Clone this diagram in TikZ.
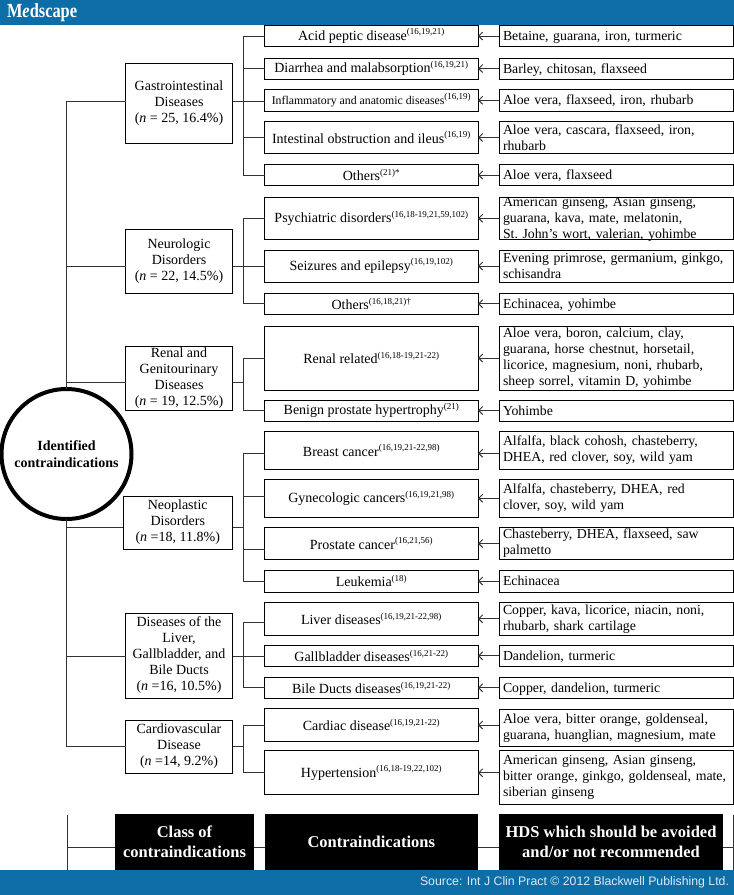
\documentclass[tikz,border=0pt]{standalone}
\usepackage{fontspec}
\usepackage{graphicx}
\setmainfont{Liberation Serif}
\newfontfamily\srcfont{Liberation Sans}
\usetikzlibrary{arrows.meta}
\definecolor{banner}{HTML}{0D6EA7}
\newcommand\rf[2][]{\raisebox{.4em}{\fontsize{9}{9}\selectfont(#2)#1}}
\begin{document}
\begin{tikzpicture}
	[x=1pt,y=-1pt,
	every node/.style={inner sep=0,outer sep=0,font=\frenchspacing\fontsize{14}{16}\selectfont},
	classbox/.style={draw,line width=.9pt,align=center,minimum width=107pt},
	contrabox/.style={draw,line width=.9pt,align=center,minimum width=213.5pt},
	hdsbox/.style={draw,line width=.9pt,align=left,inner xsep=4pt,text width=226pt,font=\frenchspacing\fontsize{13.8}{16}\selectfont},
	hdsone/.style={hdsbox,text height=9pt,text depth=0pt},
	headbox/.style={fill=black,text=white,align=center,font=\bfseries\fontsize{16.5}{20}\selectfont},
	lnk/.style={line width=.9pt,color=black!80},
	ref/.style={lnk,{Straight Barb[length=4pt,width=8pt]}-}]
	\def\cx{179}\def\dx{371.25}\def\hx{616}\def\bx{243.5}
	\useasboundingbox (0,0) rectangle (734,895);
	% root and class boxes
	\node[circle,draw,line width=4pt,minimum size=130pt,align=center,
	font=\bfseries\fontsize{14}{17}\selectfont] (root) at (66.5,454) {Identified\\contraindications};
	\node[classbox,minimum height=80pt] (cgi)  at (\cx,103.5) {Gastrointestinal\\Diseases\\(\textit{n} = 25, 16.4\%)};
	\node[classbox,minimum height=64pt] (cneu) at (\cx,261)   {Neurologic\\Disorders\\(\textit{n} = 22, 14.5\%)};
	\node[classbox,minimum height=63.5pt] (cren) at (\cx,378.5) {Renal and\\Genitourinary\\Diseases\\(\textit{n} = 19, 12.5\%)};
	\node[classbox,minimum width=109.5pt,minimum height=53pt] (cneo) at (177.75,522.5) {Neoplastic\\Disorders\\(\textit{n} =18, 11.8\%)};
	\node[classbox,minimum height=85pt] (cliv) at (\cx,655.5) {Diseases of the\\Liver,\\Gallbladder, and\\Bile Ducts\\(\textit{n} =16, 10.5\%)};
	\node[classbox,minimum height=53pt] (ccar) at (\cx,746.5) {Cardiovascular\\Disease\\(\textit{n} =14, 9.2\%)};
	% contraindication boxes
	\node[contrabox,minimum height=21.5pt] (dacid)  at (\dx,36)     {Acid peptic disease\rf{16,19,21}};
	\node[contrabox,minimum height=21pt]   (ddia)   at (\dx,68.5)   {Diarrhea and malabsorption\rf{16,19,21}};
	\node[contrabox,minimum height=21.5pt,font=\fontsize{11.8}{13}\selectfont] (dinf) at (\dx,100.25) {Inflammatory and anatomic diseases\rf{16,19}};
	\node[contrabox,minimum height=32pt]   (dint)   at (\dx,137.5)  {Intestinal obstruction and ileus\rf{16,19}};
	\node[contrabox,minimum height=21pt]   (doth)   at (\dx,175)    {Others\rf[*]{21}};
	\node[contrabox,minimum height=42.5pt] (dpsy)   at (\dx,218.25) {Psychiatric disorders\rf{16,18-19,21,59,102}};
	\node[contrabox,minimum height=32pt]   (dsei)   at (\dx,266)    {Seizures and epilepsy\rf{16,19,102}};
	\node[contrabox,minimum height=21.5pt] (dneu)   at (\dx,303.75) {Others\rf[†]{16,18,21}};
	\node[contrabox,minimum height=64pt]   (dren)   at (\dx,358)    {Renal related\rf{16,18-19,21-22}};
	\node[contrabox,minimum height=21pt]   (dben)   at (\dx,410.5)  {Benign prostate hypertrophy\rf{21}};
	\node[contrabox,minimum height=37.5pt] (dbre)   at (\dx,450.25) {Breast cancer\rf{16,19,21-22,98}};
	\node[contrabox,minimum height=37.5pt] (dgyn)   at (\dx,498.25) {Gynecologic cancers\rf{16,19,21,98}};
	\node[contrabox,minimum height=32pt]   (dpro)   at (\dx,543.5)  {Prostate cancer\rf{16,21,56}};
	\node[contrabox,minimum height=22pt]   (dleu)   at (\dx,581)    {Leukemia\rf{18}};
	\node[contrabox,minimum height=32.5pt] (dliv)   at (\dx,618.75) {Liver diseases\rf{16,19,21-22,98}};
	\node[contrabox,minimum height=21.5pt] (dgal)   at (\dx,655.75) {Gallbladder diseases\rf{16,21-22}};
	\node[contrabox,minimum height=21.5pt] (dbil)   at (\dx,687.75) {Bile Ducts diseases\rf{16,19,21-22}};
	\node[contrabox,minimum height=32.5pt] (dcar)   at (\dx,725)    {Cardiac disease\rf{16,19,21-22}};
	\node[contrabox,minimum height=44pt]   (dhyp)   at (\dx,772.75) {Hypertension\rf{16,18-19,22,102}};
	% herbal and dietary supplement boxes
	\node[hdsone,minimum height=21pt]   (hacid) at (\hx,36)     {Betaine, guarana, iron, turmeric};
	\node[hdsone,minimum height=21pt]   (hdia)  at (\hx,68.5)   {Barley, chitosan, flaxseed};
	\node[hdsone,minimum height=21.5pt] (hinf)  at (\hx,100.25) {Aloe vera, flaxseed, iron, rhubarb};
	\node[hdsbox,minimum height=32pt]   (hint)  at (\hx,137.5)  {Aloe vera, cascara, flaxseed, iron,\\rhubarb};
	\node[hdsone,minimum height=21pt]   (hoth)  at (\hx,175)    {Aloe vera, flaxseed};
	\node[hdsbox,minimum height=42.5pt,text height=8pt,text depth=32pt] (hpsy) at (\hx,218.25) {American ginseng, Asian ginseng,\\guarana, kava, mate, melatonin,\\St. John's wort, valerian, yohimbe};
	\node[hdsbox,minimum height=32pt]   (hsei)  at (\hx,266)    {Evening primrose, germanium, ginkgo,\\schisandra};
	\node[hdsone,minimum height=21.5pt] (hneu)  at (\hx,303.75) {Echinacea, yohimbe};
	\node[hdsbox,minimum height=64pt]   (hren)  at (\hx,358)    {Aloe vera, boron, calcium, clay,\\guarana, horse chestnut, horsetail,\\licorice, magnesium, noni, rhubarb,\\sheep sorrel, vitamin D, yohimbe};
	\node[hdsone,minimum height=21pt]   (hben)  at (\hx,410.5)  {Yohimbe};
	\node[hdsbox,minimum height=37.5pt] (hbre)  at (\hx,450.25) {Alfalfa, black cohosh, chasteberry,\\DHEA, red clover, soy, wild yam};
	\node[hdsbox,minimum height=37.5pt] (hgyn)  at (\hx,498.25) {Alfalfa, chasteberry, DHEA, red\\clover, soy, wild yam};
	\node[hdsbox,minimum height=32pt]   (hpro)  at (\hx,543.5)  {Chasteberry, DHEA, flaxseed, saw\\palmetto};
	\node[hdsone,minimum height=22pt]   (hleu)  at (\hx,581)    {Echinacea};
	\node[hdsbox,minimum height=32.5pt] (hliv)  at (\hx,618.75) {Copper, kava, licorice, niacin, noni,\\rhubarb, shark cartilage};
	\node[hdsone,minimum height=21.5pt] (hgal)  at (\hx,655.75) {Dandelion, turmeric};
	\node[hdsone,minimum height=21.5pt] (hbil)  at (\hx,687.75) {Copper, dandelion, turmeric};
	\node[hdsbox,minimum height=37.5pt] (hcar)  at (\hx,727.75) {Aloe vera, bitter orange, goldenseal,\\guarana, huanglian, magnesium, mate};
	\node[hdsbox,minimum height=54pt]   (hhyp)  at (\hx,777.75) {American ginseng, Asian ginseng,\\bitter orange, ginkgo, goldenseal, mate,\\siberian ginseng};
	% junctions on the branch lines
	\coordinate (jgi)  at (\bx,101);
	\coordinate (jneu) at (\bx,266.5);
	\coordinate (jren) at (\bx,382);
	\coordinate (jneo) at (\bx,527.5);
	\coordinate (jliv) at (\bx,656);
	\coordinate (jcar) at (\bx,746);
	\draw[lnk]
	(root.north) |- (cgi.west |- jgi)
	(root.north) |- (cneu.west |- jneu)
	(root.north) |- (cren.west |- jren)
	(root.south) |- (cneo.west |- jneo)
	(root.south) |- (cliv.west |- jliv)
	(root.south) |- (ccar.west |- jcar) ;
	\draw[lnk]
	(cgi.east |- jgi) -- (jgi) (cneu.east |- jneu) -- (jneu)
	(cren.east |- jren) -- (jren) (cneo.east |- jneo) -- (jneo)
	(cliv.east |- jliv) -- (jliv) (ccar.east |- jcar) -- (jcar)
	(jgi) |- (dacid.west) (jgi) |- (ddia.west) (jgi) -- (dinf.west |- jgi)
	(jgi) |- (dint.west) (jgi) |- (doth.west)
	(jneu) |- (dpsy.west) (jneu) -- (dsei.west |- jneu) (jneu) |- (dneu.west)
	(jren) |- (dren.west) (jren) |- (dben.west)
	(jneo) |- ([yshift=-3pt]dbre.west) (jneo) |- ([yshift=2pt]dgyn.west)
	(jneo) |- ([yshift=-5.5pt]dpro.west) (jneo) |- (dleu.west)
	(jliv) |- ([yshift=-4pt]dliv.west) (jliv) -- (dgal.west |- jliv) (jliv) |- (dbil.west)
	(jcar) |- (dcar.west) (jcar) |- (dhyp.west) ;
	% supplements point at the contraindications
	\draw[ref] (dacid.east) -- (hacid.west);
	\draw[ref] (ddia.east) -- (hdia.west);
	\draw[ref] (dinf.east) -- (hinf.west);
	\draw[ref] (dint.east) -- (hint.west);
	\draw[ref] (doth.east) -- (hoth.west);
	\draw[ref] (dpsy.east) -- (hpsy.west |- dpsy.east);
	\draw[ref] (dsei.east) -- (hsei.west);
	\draw[ref] (dneu.east) -- (hneu.west);
	\draw[ref] (dren.east) -- (hren.west);
	\draw[ref] (dben.east) -- (hben.west);
	\draw[ref] ([yshift=-3pt]dbre.east) -- ([yshift=-3pt]hbre.west);
	\draw[ref] (dgyn.east) -- (hgyn.west);
	\draw[ref] (dpro.east) -- (hpro.west);
	\draw[ref] (dleu.east) -- (hleu.west);
	\draw[ref] (dliv.east) -- (hliv.west);
	\draw[ref] (dgal.east) -- (hgal.west);
	\draw[ref] (dbil.east) -- (hbil.west);
	\draw[ref] (dcar.east) -- (hcar.west |- dcar.east);
	\draw[ref] (dhyp.east) -- (hhyp.west |- dhyp.east);
	% key along the foot
	\node[headbox,minimum width=139pt,minimum height=56pt] (kcla) at (184.5,842) {Class of\\contraindications};
	\node[headbox,minimum width=213.5pt,minimum height=56pt] (kcon) at (\dx,842) {Contraindications};
	\node[headbox,minimum width=224pt,minimum height=56pt] (khds) at (611,842) {HDS which should be avoided\\and/or not recommended};
	\coordinate (kl) at (67,847);
	\coordinate (kr) at (733.5,847);
	\coordinate (klt) at (67,815);
	\coordinate (klb) at (67,872);
	\coordinate (krt) at (733.5,815);
	\coordinate (krb) at (733.5,872);
	\draw[lnk] (klt) -- (klb) (kl) -- (kl -| kcla.west) (kl -| kcla.east) -- (kl -| kcon.west)
	(kl -| kcon.east) -- (kl -| khds.west) (kl -| khds.east) -- (kr) (krt) -- (krb) ;
	% banners
	\node[fill=banner,minimum width=734pt,minimum height=25pt] (top) at (367,12.5) {};
	\node[fill=banner,minimum width=734pt,minimum height=25pt] (foot) at (367,882.5) {};
	\node[text=white,anchor=west,font=\bfseries\fontsize{20}{20}\selectfont] (logo) at (7,12.5) {\scalebox{.82}[1]{M\textit{e}dscape}};
	\node[text=white!85!banner,anchor=east,font=\srcfont\fontsize{12.3}{14}\selectfont] (src) at (729,882) {Source: Int J Clin Pract © 2012 Blackwell Publishing Ltd.};
\end{tikzpicture}
\end{document}
